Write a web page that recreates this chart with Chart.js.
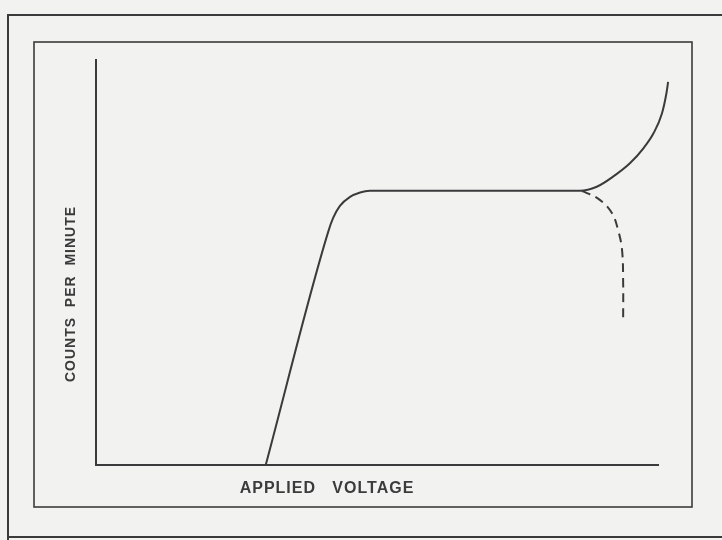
<!DOCTYPE html>
<html>
<head>
<meta charset="utf-8">
<title>Counts per minute vs applied voltage</title>
<script src="https://cdn.jsdelivr.net/npm/chart.js@4/dist/chart.umd.min.js"></script>
<style>
  html, body { margin: 0; padding: 0; background: #f2f2f1; }
  #wrap { width: 722px; height: 540px; position: relative; }
</style>
</head>
<body>
<div id="wrap"><canvas id="plateau" width="722" height="540"></canvas></div>
<script>
// -------------------------
// Datos (escala arbitraria 0-100)
// -------------------------
const voltage = [30.2, 41.3, 42.2, 43.4, 45.2, 47.0, 48.75, 70.0, 86.1, 89.1, 92.0, 95.0, 97.4, 99.2, 100.7, 101.5, 101.8];
const counts  = [0,    57.5, 61.0, 64.0, 66.2, 67.3, 67.7,  67.7, 67.7, 68.7, 71.2, 74.5, 78.2, 81.9, 86.8,  91.8,  94.6];

// rama discontinua (caída)
const voltageDrop = [86.3, 87.0, 89.7, 91.8, 92.9, 93.6, 93.8, 93.8];
const countsDrop  = [67.7, 67.4, 65.4, 62.2, 58.0, 53.1, 44.9, 36.5];

const xLabel = "APPLIED   VOLTAGE";
const yLabel = "COUNTS  PER  MINUTE";

const INK = "#3b3b3b";

// los puntos van de derecha a izquierda: así Chart.js no recorta
// el tramo final que sobresale del eje x
function toPoints(xs, ys){ return xs.map((x, i) => ({ x, y: ys[i] })).reverse(); }

// -------------------------
// Marcos y textos de la hoja
// -------------------------
const sheetPlugin = {
  id: "sheet",
  beforeDraw(chart){
    const ctx = chart.ctx;
    ctx.save();
    ctx.strokeStyle = INK;
    ctx.lineWidth = 2;
    // marco exterior
    ctx.beginPath();
    ctx.moveTo(8, 540); ctx.lineTo(8, 15); ctx.lineTo(722, 15);
    ctx.stroke();
    ctx.beginPath();
    ctx.moveTo(8, 537); ctx.lineTo(722, 537);
    ctx.stroke();
    // marco interior
    ctx.lineWidth = 1.6;
    ctx.strokeRect(34, 42, 658, 465);
    ctx.restore();
  },
  afterDraw(chart){
    const ctx = chart.ctx;
    ctx.save();
    ctx.fillStyle = INK;
    ctx.textAlign = "center";
    ctx.textBaseline = "middle";
    ctx.font = "bold 16px 'Liberation Sans', Arial, sans-serif";
    ctx.letterSpacing = "1px";
    ctx.fillText(xLabel, 327, 489);
    ctx.font = "bold 14px 'Liberation Sans', Arial, sans-serif";
    ctx.letterSpacing = "1px";
    ctx.translate(71, 294);
    ctx.rotate(-Math.PI / 2);
    ctx.fillText(yLabel, 0, 0);
    ctx.restore();
  }
};

const ctx = document.getElementById("plateau").getContext("2d");
new Chart(ctx, {
  type: "line",
  data: {
    datasets: [
      {
        data: toPoints(voltage, counts),
        borderColor: INK,
        borderWidth: 2,
        pointRadius: 0,
        cubicInterpolationMode: "monotone",
        clip: false
      },
      {
        data: toPoints(voltageDrop, countsDrop),
        borderColor: INK,
        borderWidth: 2,
        borderDash: [9, 6],
        pointRadius: 0,
        tension: 0.4,
        clip: false
      }
    ]
  },
  options: {
    responsive: false,
    animation: false,
    layout: { padding: { left: 96, top: 60, right: 64, bottom: 75 } },
    plugins: { legend: { display: false }, tooltip: { enabled: false } },
    scales: {
      x: {
        type: "linear", min: 0, max: 100,
        grid: { display: false, drawTicks: false },
        ticks: { display: false },
        border: { display: true, color: INK, width: 2 }
      },
      y: {
        type: "linear", min: 0, max: 100,
        grid: { display: false, drawTicks: false },
        ticks: { display: false },
        border: { display: true, color: INK, width: 2 }
      }
    }
  },
  plugins: [sheetPlugin]
});
</script>
</body>
</html>
